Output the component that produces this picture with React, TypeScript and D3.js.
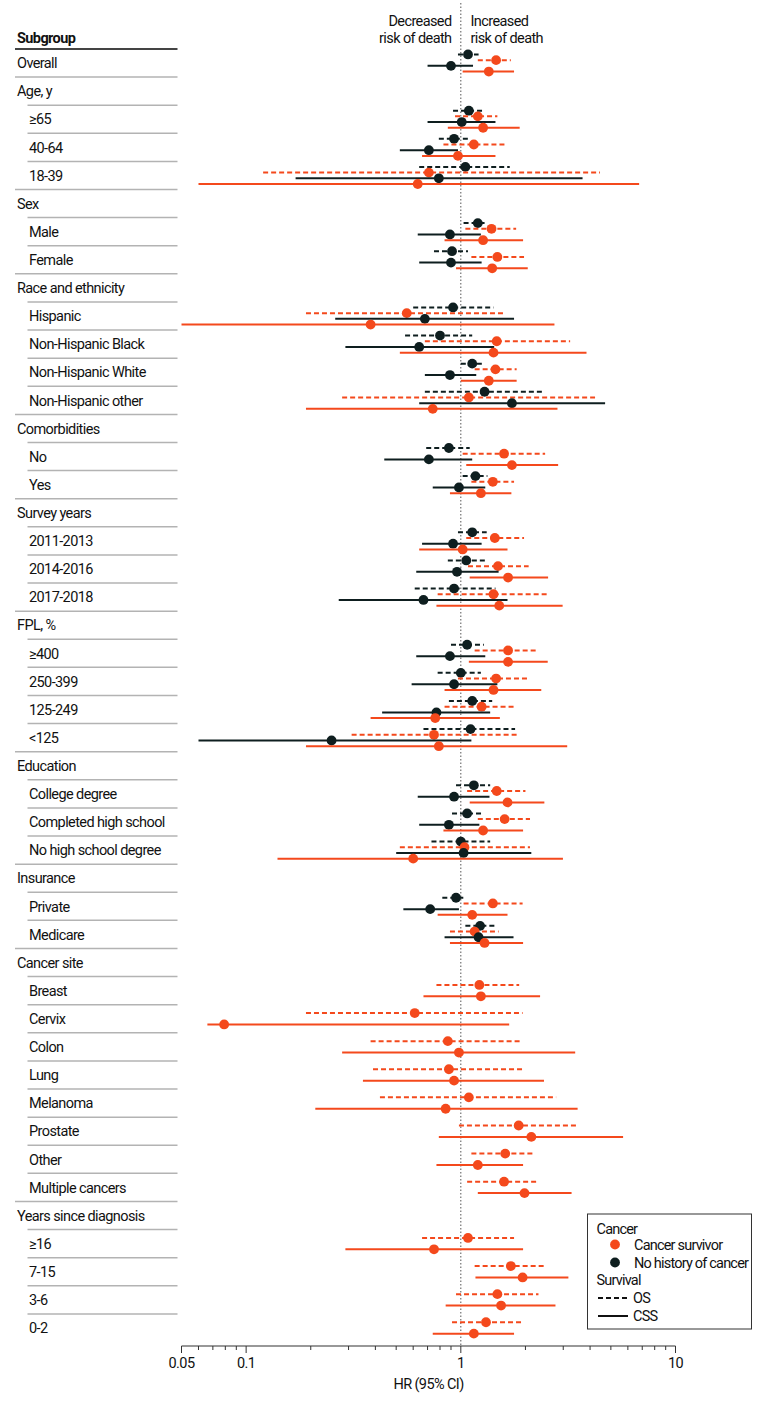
import React from "react";
import * as d3 from "d3";

// Subgroup structure: group name followed by its items (Overall has none)
const groupNames = [
  "Overall",
  "Age, y",
  "Sex",
  "Race and ethnicity",
  "Comorbidities",
  "Survey years",
  "FPL, %",
  "Education",
  "Insurance",
  "Cancer site",
  "Years since diagnosis",
];

const groupItems = [
  [],
  ["≥65", "40-64", "18-39"],
  ["Male", "Female"],
  ["Hispanic", "Non-Hispanic Black", "Non-Hispanic White", "Non-Hispanic other"],
  ["No", "Yes"],
  ["2011-2013", "2014-2016", "2017-2018"],
  ["≥400", "250-399", "125-249", "<125"],
  ["College degree", "Completed high school", "No high school degree"],
  ["Private", "Medicare"],
  ["Breast", "Cervix", "Colon", "Lung", "Melanoma", "Prostate", "Other", "Multiple cancers"],
  ["≥16", "7-15", "3-6", "0-2"],
];

// [HR, lower, upper] per data row (Overall + every item, in order)
const osNoHistory = [
  [1.08, 0.97, 1.21], [1.09, 0.92, 1.28], [0.93, 0.79, 1.1], [1.05, 0.64, 1.69],
  [1.2, 1.03, 1.33], [0.91, 0.75, 1.08],
  [0.92, 0.6, 1.42], [0.8, 0.55, 1.13], [1.13, 1.0, 1.28], [1.29, 0.68, 2.44],
  [0.88, 0.69, 1.1], [1.17, 1.02, 1.33],
  [1.13, 0.97, 1.32], [1.06, 0.87, 1.3], [0.93, 0.61, 1.45],
  [1.07, 0.9, 1.28], [1.0, 0.78, 1.24], [1.13, 0.88, 1.4], [1.11, 0.67, 1.79],
  [1.15, 0.95, 1.37], [1.07, 0.91, 1.26], [1.0, 0.73, 1.37],
  [0.95, 0.82, 1.03], [1.23, 1.05, 1.46],
];

const osSurvivor = [
  [1.46, 1.2, 1.71], [1.2, 0.94, 1.48], [1.15, 0.83, 1.61], [0.71, 0.12, 4.45],
  [1.39, 1.05, 1.81], [1.48, 1.12, 1.97],
  [0.56, 0.19, 1.58], [1.47, 0.68, 3.23], [1.45, 1.16, 1.82], [1.09, 0.28, 4.22],
  [1.59, 1.02, 2.47], [1.41, 1.12, 1.77],
  [1.44, 1.06, 1.97], [1.49, 1.08, 2.07], [1.42, 0.78, 2.58],
  [1.66, 1.16, 2.28], [1.46, 0.97, 2.1], [1.25, 0.84, 1.81], [0.75, 0.31, 1.84],
  [1.47, 1.07, 2.0], [1.6, 1.2, 2.1], [1.04, 0.52, 2.1],
  [1.41, 1.03, 1.94], [1.16, 0.89, 1.5],
  [1.22, 0.77, 1.87], [0.61, 0.19, 1.94], [0.87, 0.38, 1.89], [0.88, 0.39, 1.94],
  [1.09, 0.42, 2.78], [1.86, 0.98, 3.5], [1.61, 1.12, 2.19], [1.59, 1.07, 2.3],
  [1.08, 0.66, 1.77], [1.71, 1.16, 2.47], [1.48, 0.95, 2.3], [1.31, 0.91, 1.92],
];

const cssNoHistory = [
  [0.9, 0.7, 1.14], [1.01, 0.7, 1.45], [0.71, 0.52, 0.97], [0.79, 0.17, 3.69],
  [0.89, 0.63, 1.24], [0.9, 0.64, 1.25],
  [0.68, 0.26, 1.77], [0.64, 0.29, 1.43], [0.89, 0.68, 1.18], [1.73, 0.64, 4.7],
  [0.71, 0.44, 1.13], [0.98, 0.74, 1.3],
  [0.92, 0.66, 1.25], [0.96, 0.62, 1.5], [0.67, 0.27, 1.65],
  [0.89, 0.62, 1.3], [0.93, 0.59, 1.48], [0.77, 0.43, 1.37], [0.25, 0.06, 1.12],
  [0.93, 0.63, 1.36], [0.88, 0.64, 1.22], [1.03, 0.5, 2.13],
  [0.72, 0.54, 0.98], [1.21, 0.84, 1.76],
];

const cssSurvivor = [
  [1.35, 1.02, 1.77], [1.27, 0.87, 1.88], [0.97, 0.66, 1.45], [0.63, 0.06, 6.77],
  [1.27, 0.84, 1.95], [1.4, 0.95, 2.05],
  [0.38, 0.05, 2.73], [1.42, 0.52, 3.85], [1.35, 1.0, 1.82], [0.74, 0.19, 2.82],
  [1.73, 1.06, 2.84], [1.24, 0.89, 1.72],
  [1.02, 0.64, 1.65], [1.66, 1.1, 2.55], [1.51, 0.77, 2.98],
  [1.66, 1.09, 2.54], [1.42, 0.84, 2.37], [0.76, 0.38, 1.52], [0.79, 0.19, 3.13],
  [1.65, 1.1, 2.45], [1.27, 0.83, 1.95], [0.6, 0.14, 2.99],
  [1.13, 0.78, 1.65], [1.29, 0.89, 1.95],
  [1.24, 0.67, 2.34], [0.079, 0.066, 1.68], [0.98, 0.28, 3.41], [0.93, 0.35, 2.44],
  [0.85, 0.21, 3.5], [2.13, 0.79, 5.7], [1.2, 0.77, 1.95], [1.98, 1.2, 3.28],
  [0.75, 0.29, 1.95], [1.94, 1.17, 3.17], [1.54, 0.85, 2.76], [1.15, 0.74, 1.77],
];

const tickLabels = [0.05, 0.1, 1, 10];

const ORANGE = "#f4491c";
const BLACK = "#0e1e1f";
const FONT = "Roboto, 'Liberation Sans', sans-serif";

type Row = { label: string; kind: "overall" | "header" | "item"; last?: boolean; di?: number };

export default function App() {
  const width = 780;
  const height = 1402;

  const x = d3.scaleLog().domain([0.05, 10]).range([181.5, 675.5]);

  const rows: Row[] = [];
  let di = 0;
  groupNames.forEach((g, gi) => {
    const items = groupItems[gi];
    if (items.length === 0) {
      rows.push({ label: g, kind: "overall", di: di++ });
      return;
    }
    rows.push({ label: g, kind: "header" });
    items.forEach((it, k) =>
      rows.push({ label: it, kind: "item", last: k === items.length - 1, di: di++ })
    );
  });

  const step = 28.11;
  const y = d3
    .scaleLinear()
    .domain([0, rows.length - 1])
    .range([63, 63 + step * (rows.length - 1)]);

  const axisY = 1346;
  const labelX = 17;
  const indentX = 29;
  const colRight = 177.5;

  const series = [
    { data: osNoHistory, color: BLACK, dash: "5,3" },
    { data: osSurvivor, color: ORANGE, dash: "5,3" },
    { data: cssNoHistory, color: BLACK, dash: null },
    { data: cssSurvivor, color: ORANGE, dash: null },
  ];

  const marks: React.ReactNode[] = [];
  rows.forEach((r, i) => {
    if (r.di === undefined) return;
    const d = r.di;
    const active = series.filter((s) => s.data[d]);
    const offsets =
      active.length === 4 ? [-8.55, -2.85, 2.85, 8.55] : [-5.7, 5.7];
    active.forEach((s, k) => {
      const [hr, lo, hi] = s.data[d] as number[];
      const yy = y(i) + offsets[k];
      marks.push(
        <g key={`m${i}-${k}`}>
          <line
            x1={x(lo)}
            x2={x(hi)}
            y1={yy}
            y2={yy}
            stroke={s.color}
            strokeWidth={2}
            strokeDasharray={s.dash ?? undefined}
          />
          <circle cx={x(hr)} cy={yy} r={4.9} fill={s.color} />
        </g>
      );
    });
  });

  const minorTicks = x.ticks();

  return (
    <svg
      width={width}
      height={height}
      style={{ position: "absolute", left: 0, top: 0, background: "#fff" }}
      fontFamily={FONT}
      fontSize={14.5}
      letterSpacing={-0.6}
    >
      {/* direction labels */}
      <g fill="#111">
        <text x={451.5} y={25.5} textAnchor="end">Decreased</text>
        <text x={451.5} y={42.5} textAnchor="end">risk of death</text>
        <text x={470.5} y={25.5}>Increased</text>
        <text x={470.5} y={42.5}>risk of death</text>
      </g>

      {/* subgroup column */}
      <text x={labelX} y={43} fontWeight={700} fill="#111">Subgroup</text>
      <line x1={labelX - 2} x2={colRight} y1={49} y2={49} stroke="#444" strokeWidth={2} />
      {rows.map((r, i) => {
        const indented = r.kind === "item";
        const full = r.kind === "overall" || (r.kind === "item" && r.last);
        return (
          <g key={`r${i}`}>
            <text
              x={indented ? indentX : labelX}
              y={y(i)}
              dy="0.36em"
              fill="#111"
            >
              {r.label}
            </text>
            {i < rows.length - 1 && (
              <line
                x1={full ? labelX - 2 : indentX - 1.5}
                x2={colRight}
                y1={y(i) + step / 2}
                y2={y(i) + step / 2}
                stroke="#b3b3b3"
                strokeWidth={1.5}
              />
            )}
          </g>
        );
      })}

      {/* reference line at HR = 1 */}
      <line
        x1={x(1)}
        x2={x(1)}
        y1={3}
        y2={axisY}
        stroke="#555"
        strokeWidth={1}
        strokeDasharray="1.5,2"
      />

      {marks}

      {/* x axis */}
      <g>
        <line x1={x(0.05)} x2={x(10)} y1={axisY} y2={axisY} stroke="#333" strokeWidth={1.2} />
        {minorTicks.map((t, i) => {
          const major = tickLabels.some((v) => Math.abs(v - t) < 1e-9);
          return (
            <line
              key={`t${i}`}
              x1={x(t)}
              x2={x(t)}
              y1={axisY}
              y2={axisY + (major ? 7 : 4)}
              stroke="#333"
              strokeWidth={1}
            />
          );
        })}
        {tickLabels.map((t) => (
          <text key={`tl${t}`} x={x(t)} y={axisY + 17} dy="0.36em" textAnchor="middle" fill="#111">
            {String(t)}
          </text>
        ))}
        <text
          x={(x(0.05) + x(10)) / 2}
          y={axisY + 38}
          dy="0.36em"
          textAnchor="middle"
          fill="#111"
        >
          HR (95% CI)
        </text>
      </g>

      {/* legend */}
      <g letterSpacing={-0.8}>
        <rect x={587.5} y={1214} width={164} height={115} fill="#fff" stroke="#333" strokeWidth={1} />
        <text x={596.5} y={1229} dy="0.36em" fill="#111">Cancer</text>
        <circle cx={615} cy={1244.5} r={4.9} fill={ORANGE} />
        <text x={634} y={1244.5} dy="0.36em" fill="#111">Cancer survivor</text>
        <circle cx={615} cy={1262.5} r={4.9} fill={BLACK} />
        <text x={634} y={1262.5} dy="0.36em" fill="#111">No history of cancer</text>
        <text x={596.5} y={1280} dy="0.36em" fill="#111">Survival</text>
        <line x1={598} x2={628} y1={1298} y2={1298} stroke="#111" strokeWidth={2} strokeDasharray="5,3" />
        <text x={633} y={1298} dy="0.36em" fill="#111">OS</text>
        <line x1={598} x2={628} y1={1316} y2={1316} stroke="#111" strokeWidth={2} />
        <text x={633} y={1316} dy="0.36em" fill="#111">CSS</text>
      </g>
    </svg>
  );
}
